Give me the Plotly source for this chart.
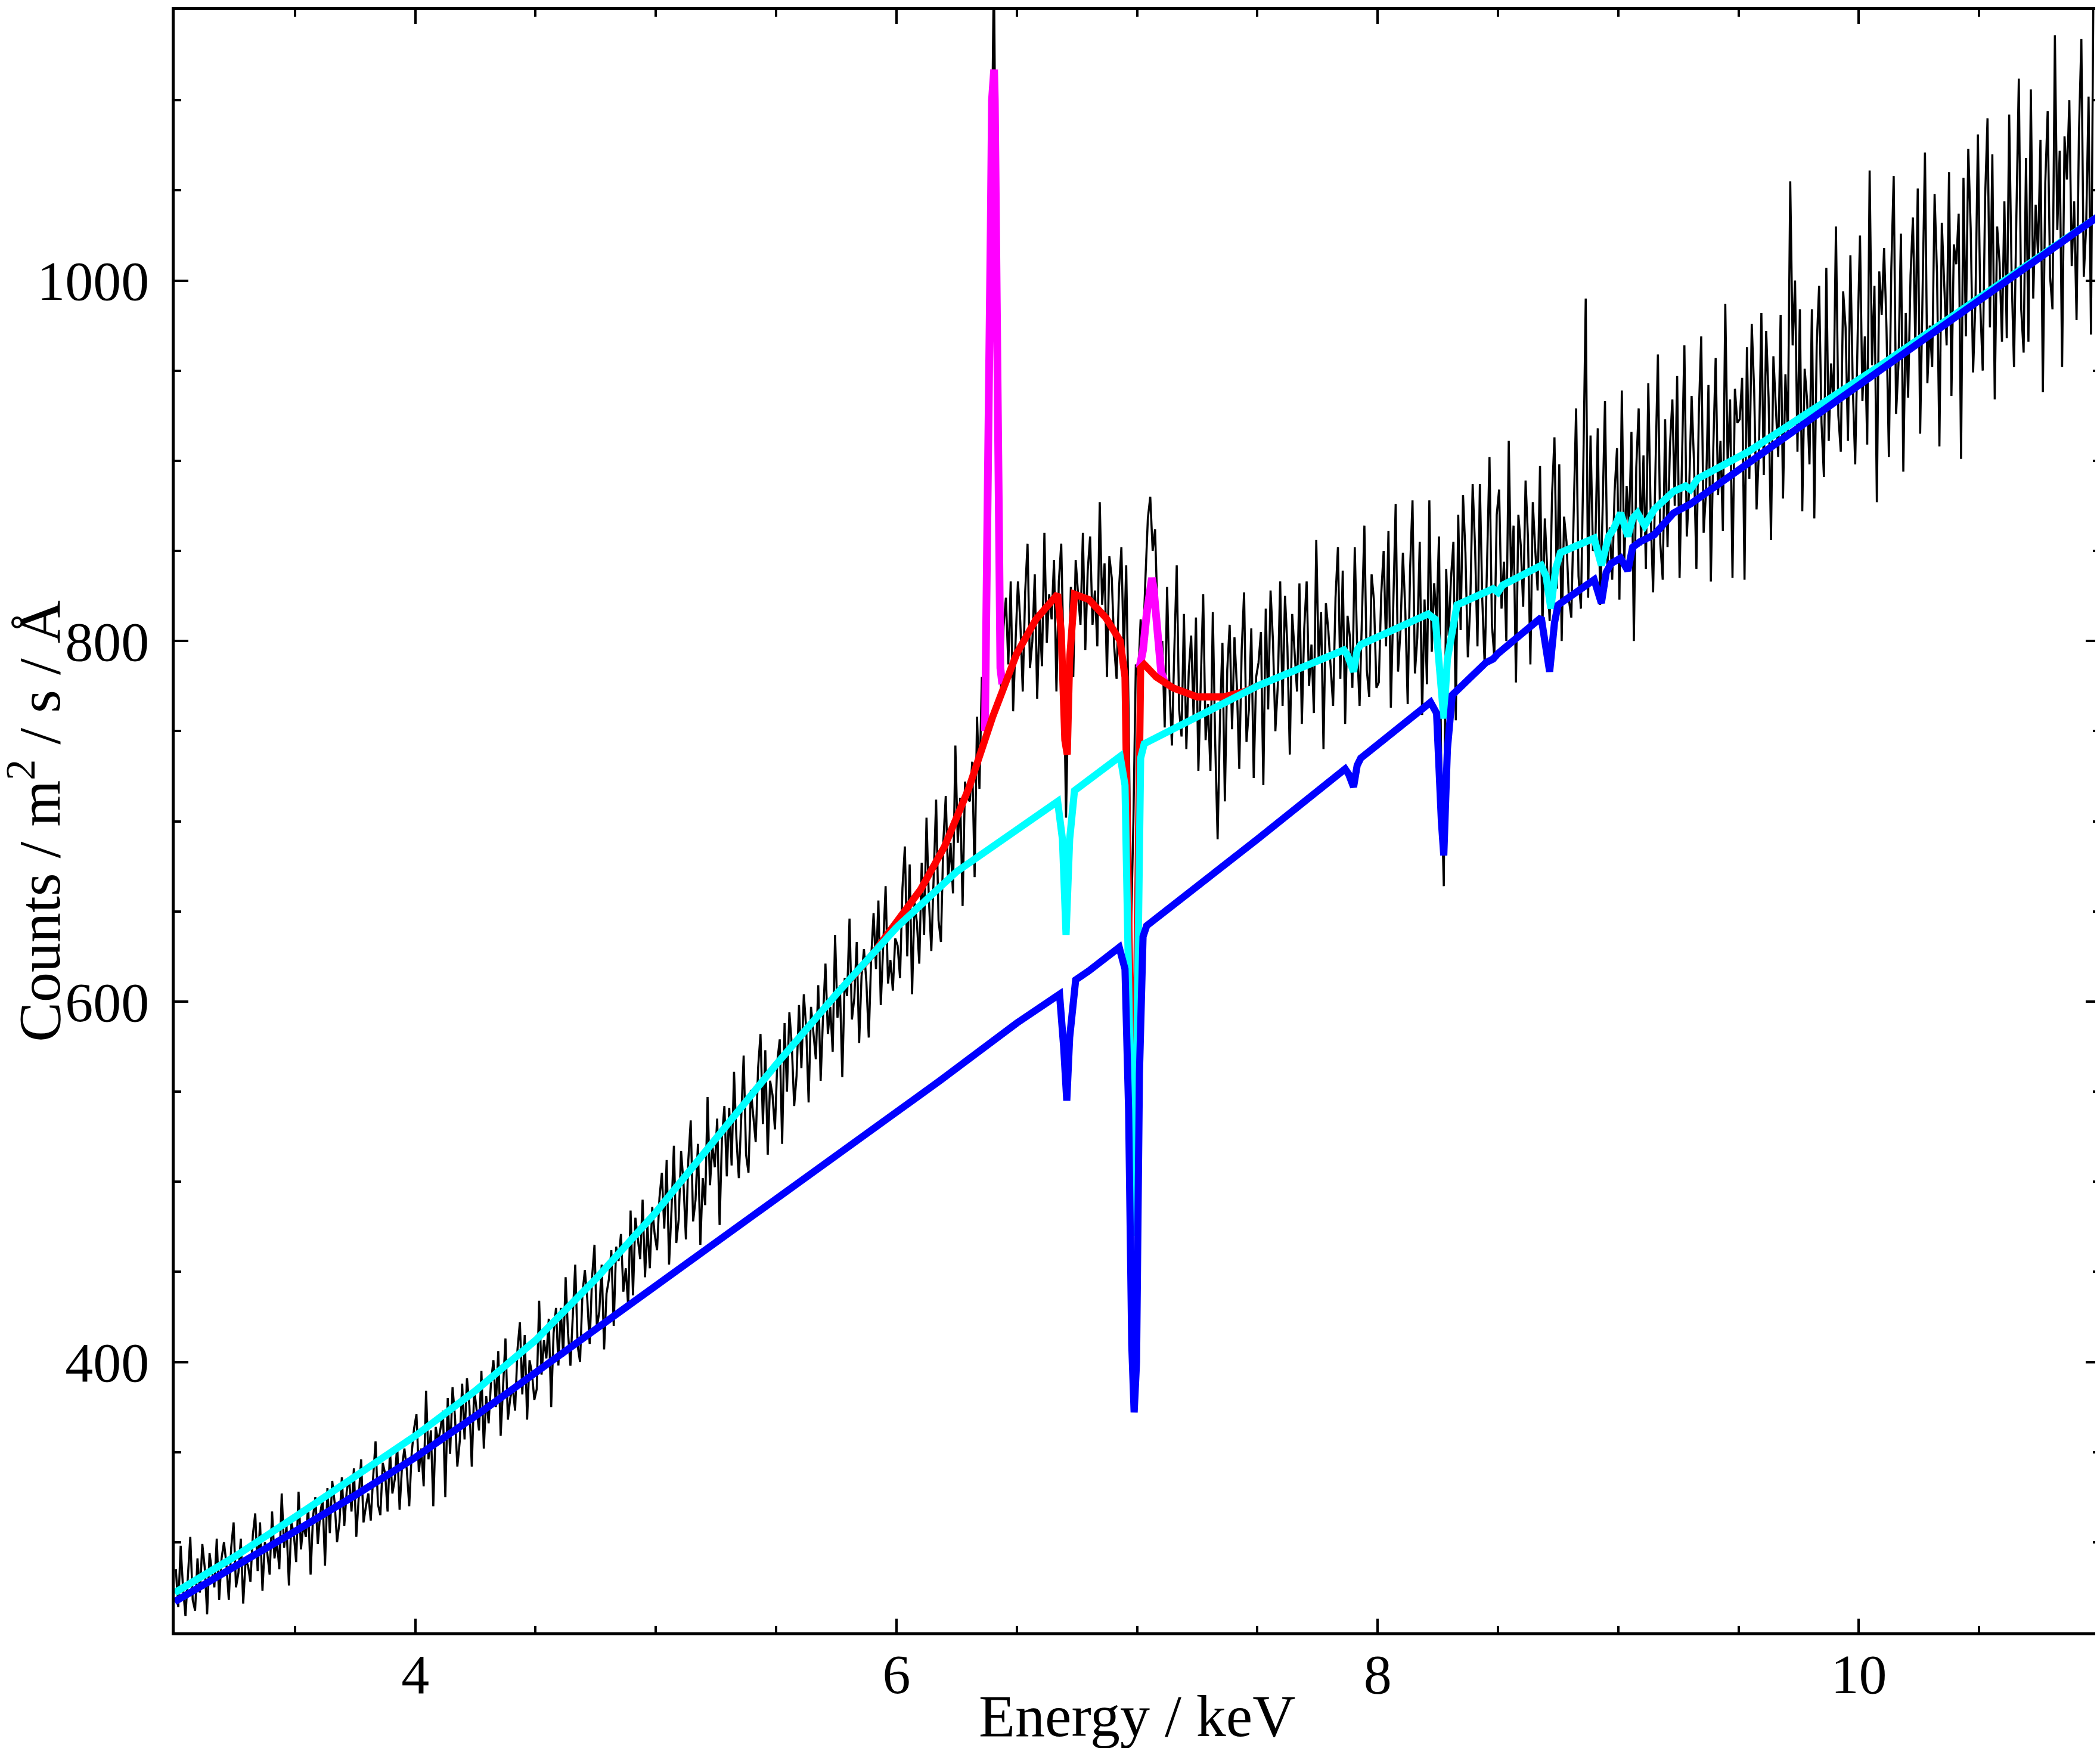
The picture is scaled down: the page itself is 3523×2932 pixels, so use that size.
import plotly.graph_objects as go

# ---------------- data ----------------
E_START = 3.005   # centre of first bin (keV)
E_STEP = 0.01     # bin width (keV)

counts = [
    285, 264, 298, 274, 259, 283, 303, 268, 262, 291,
    272, 299, 286, 260, 294, 284, 275, 302, 268, 291,
    300, 288, 268, 297, 311, 275, 283, 302, 266, 290,
    287, 278, 304, 316, 284, 311, 273, 300, 294, 282,
    317, 291, 301, 285, 327, 297, 309, 276, 311, 305,
    289, 328, 296, 310, 303, 320, 282, 314, 325, 299,
    316, 324, 287, 330, 305, 334, 322, 300, 311, 336,
    309, 328, 336, 317, 341, 303, 323, 346, 311, 320,
    327, 312, 336, 356, 321, 315, 344, 338, 317, 351,
    327, 335, 354, 318, 342, 352, 340, 320, 349, 363,
    371, 339, 352, 331, 384, 346, 362, 320, 364, 356,
    363, 373, 325, 380, 349, 386, 370, 342, 356, 388,
    357, 391, 376, 342, 385, 373, 362, 395, 352, 381,
    366, 389, 401, 375, 406, 359, 384, 413, 368, 380,
    386, 373, 407, 422, 382, 415, 368, 401, 394, 379,
    385, 434, 393, 412, 402, 424, 375, 416, 430, 398,
    430, 403, 447, 416, 398, 427, 454, 409, 400, 438,
    451, 435, 410, 447, 465, 419, 428, 454, 407, 438,
    446, 462, 420, 464, 456, 471, 439, 452, 431, 484,
    437, 480, 468, 457, 490, 447, 476, 452, 486, 471,
    462, 491, 505, 474, 512, 454, 484, 520, 466, 479,
    517, 499, 468, 512, 534, 478, 490, 521, 465, 502,
    487, 547, 498, 520, 508, 535, 476, 525, 542, 503,
    541, 509, 561, 524, 502, 538, 570, 515, 505, 551,
    537, 522, 563, 582, 532, 573, 515, 556, 548, 529,
    567, 579, 521, 588, 550, 594, 576, 542, 559, 598,
    563, 604, 585, 544, 597, 581, 568, 609, 556, 592,
    621, 582, 597, 572, 637, 591, 609, 558, 613, 603,
    646, 590, 602, 633, 577, 614, 629, 611, 580, 624,
    649, 618, 656, 598, 628, 664, 610, 623, 606, 635,
    631, 613, 663, 686, 625, 676, 604, 655, 644, 621,
    677, 637, 702, 656, 628, 673, 712, 645, 633, 689,
    714, 667, 688, 660, 742, 688, 713, 653, 722, 713,
    711, 733, 669, 758, 718, 780, 765, 800, 920, 1060,
    1175, 1010, 870, 772, 808, 824, 787, 833, 761, 799,
    833, 810, 772, 827, 854, 785, 800, 837, 768, 814,
    786, 860, 799, 826, 812, 845, 772, 833, 854, 790,
    702, 775, 830, 780, 845, 826, 809, 860, 795, 839,
    858, 809, 828, 797, 877, 820, 843, 780, 847, 835,
    797, 779, 829, 852, 791, 842, 760, 640, 700, 787,
    780, 812, 798, 835, 868, 880, 850, 862, 815, 790,
    800, 752, 830, 774, 742, 795, 842, 762, 747, 815,
    740, 783, 803, 758, 813, 728, 773, 826, 745, 765,
    728, 816, 743, 690, 758, 799, 711, 784, 809, 751,
    802, 775, 729, 795, 827, 744, 762, 807, 724, 780,
    788, 805, 720, 818, 762, 828, 800, 750, 775, 833,
    764, 825, 797, 737, 815, 792, 772, 832, 754, 807,
    833, 775, 798, 760, 856, 788, 816, 740, 821, 806,
    786, 764, 824, 852, 779, 839, 754, 814, 802, 774,
    852, 796, 764, 817, 864, 784, 769, 837, 822, 774,
    777, 826, 850, 797, 861, 763, 815, 876, 783, 806,
    849, 817, 765, 840, 878, 782, 802, 855, 759, 823,
    776, 878, 794, 832, 811, 858, 720, 664, 840, 803,
    835, 855, 756, 870, 806, 881, 849, 791, 820, 887,
    852, 797, 887, 823, 786, 847, 902, 809, 791, 870,
    884, 818, 844, 800, 911, 832, 864, 777, 870, 853,
    819, 889, 857, 787, 877, 851, 828, 897, 807, 868,
    837, 811, 881, 913, 829, 898, 800, 869, 855, 823,
    813, 874, 929, 836, 818, 897, 990, 824, 914, 850,
    854, 918, 820, 872, 933, 840, 863, 834, 883, 907,
    823, 939, 843, 886, 863, 916, 800, 896, 929, 853,
    903, 840, 943, 870, 827, 897, 959, 854, 834, 923,
    852, 908, 934, 875, 947, 835, 895, 964, 858, 885,
    936, 899, 840, 926, 969, 860, 883, 942, 833, 906,
    957, 881, 911, 861, 987, 897, 934, 835, 940, 921,
    923, 946, 834, 963, 890, 976, 939, 873, 906, 982,
    892, 972, 935, 856, 958, 929, 902, 981, 879, 948,
    914, 1055, 964, 1000, 905, 984, 872, 951, 934, 898,
    984, 868, 964, 997, 921, 891, 1007, 911, 954, 931,
    1030, 925, 905, 994, 974, 911, 1014, 941, 898, 968,
    1025, 933, 969, 909, 1061, 953, 997, 877, 1005, 981,
    1018, 974, 902, 1006, 1058, 926, 954, 1026, 894, 982,
    935, 1003, 1035, 963, 1051, 915, 987, 1071, 943, 975,
    952, 1048, 1004, 908, 1032, 996, 964, 1060, 936, 1020,
    1009, 1037, 901, 1057, 969, 1073, 1029, 949, 989, 1081,
    986, 950, 1046, 1090, 974, 1070, 934, 1030, 1010, 966,
    1044, 968, 1092, 1004, 952, 1036, 1112, 984, 960, 1068,
    966, 1106, 990, 1042, 1014, 1078, 938, 1054, 1094, 1002,
    984, 1136, 1028, 1072, 952, 1080, 1056, 1100, 1008, 1044,
    978, 1082, 1134, 1002, 1030, 1102, 970, 1160, 1180, 1050,
]
energy = [round(E_START + E_STEP * i, 3) for i in range(len(counts))]

# absorbed continuum (blue)
blue_e = [3.00, 3.25, 3.50, 3.75, 4.00, 4.25, 4.50, 4.75, 5.00, 5.25, 5.50, 5.75,
          6.00, 6.18, 6.50, 6.65, 6.678, 6.695, 6.708, 6.72, 6.745, 6.80, 6.926,
          6.95, 6.965, 6.978, 6.988, 6.998, 7.01, 7.025, 7.04, 7.50, 7.865, 7.88,
          7.90, 7.915, 7.93, 8.22, 8.245, 8.265, 8.275, 8.29, 8.31, 8.45, 8.48,
          8.50, 8.68, 8.695, 8.715, 8.735, 8.75, 8.90, 8.93, 8.95, 8.97, 9.01,
          9.04, 9.06, 9.09, 9.15, 9.23, 9.30, 10.00, 10.50, 11.00]
blue_v = [267, 286, 306, 326, 347, 370, 394, 418, 442, 466, 490, 514,
          539, 556, 588, 602, 604, 575, 545, 580, 612, 617, 630,
          618, 540, 410, 372, 400, 560, 636, 642, 690, 729, 726,
          719, 731, 735, 766, 760, 700, 681, 740, 770, 788, 790,
          793, 813, 800, 783, 810, 820, 834, 821, 838, 843, 846,
          839, 852, 855, 859, 871, 876, 942, 989, 1036]

# continuum + broad component (cyan)
cyan_e = [3.00, 3.25, 3.50, 3.75, 4.00, 4.25, 4.50, 4.75, 5.00, 5.25, 5.50, 5.75,
          6.00, 6.25, 6.50, 6.67, 6.69, 6.705, 6.72, 6.74, 6.93, 6.95, 6.972,
          6.985, 6.998, 7.015, 7.03, 7.50, 7.86, 7.875, 7.90, 7.915, 7.93, 8.21,
          8.24, 8.26, 8.275, 8.29, 8.33, 8.48, 8.50, 8.52, 8.68, 8.70, 8.72,
          8.74, 8.76, 8.90, 8.93, 8.96, 8.98, 9.01, 9.04, 9.06, 9.08, 9.11,
          9.15, 9.23, 9.28, 9.30, 9.33, 9.54, 10.08, 11.00]
cyan_v = [272, 292, 314, 336, 359, 384, 412, 446, 483, 524, 565, 604,
          641, 672, 695, 711, 690, 637, 690, 717, 736, 720, 560,
          470, 560, 735, 743, 775, 795, 792, 783, 795, 798, 815,
          812, 780, 757, 790, 820, 829, 827, 831, 842, 836, 818,
          840, 849, 857, 842, 858, 862, 871, 858, 868, 871, 864,
          873, 883, 886, 884, 890, 905, 952, 1036]

# model with broad iron line (red)
red_e = [5.80, 5.90, 6.00, 6.10, 6.20, 6.30, 6.40, 6.50, 6.58, 6.64, 6.67,
         6.685, 6.70, 6.71, 6.72, 6.74, 6.80, 6.87, 6.93, 6.95, 6.972, 6.985,
         6.998, 7.015, 7.03, 7.08, 7.15, 7.25, 7.36, 7.45, 7.50]
red_v = [611, 626, 644, 662, 686, 718, 758, 793, 812, 822, 826,
         805, 745, 737, 790, 826, 823, 813, 800, 780, 560, 480,
         600, 785, 787, 780, 774, 769, 769, 772, 775]

# narrow emission lines (magenta), two separate pieces
mag_e = [6.368, 6.380, 6.392, 6.397, 6.400, 6.406, 6.409, 6.414, 6.424, 6.432, 6.44,
         None,
         7.01, 7.025, 7.04, 7.055, 7.062, 7.07, 7.085, 7.10, 7.115]
mag_v = [750, 860, 1030, 1100, 1117, 1117, 1100, 1000, 840, 785, 776,
         None,
         785, 795, 815, 833, 835, 828, 800, 783, 777]

# axis ticks
x_range = [3, 11]
y_range = [250, 1150]
x_tick_step, x_minor_step = 2, 0.5
y_tick_step, y_minor_step = 200, 50

# ---------------- figure ----------------
FONT = "Liberation Serif"
fig = go.Figure()
fig.add_trace(go.Scatter(x=energy, y=counts, mode="lines",
                         line=dict(color="black", width=3.5), hoverinfo="skip"))
fig.add_trace(go.Scatter(x=mag_e, y=mag_v, mode="lines", connectgaps=False,
                         line=dict(color="#ff00ff", width=13), hoverinfo="skip"))
fig.add_trace(go.Scatter(x=red_e, y=red_v, mode="lines",
                         line=dict(color="#ff0000", width=12), hoverinfo="skip"))
fig.add_trace(go.Scatter(x=cyan_e, y=cyan_v, mode="lines",
                         line=dict(color="#00ffff", width=12), hoverinfo="skip"))
fig.add_trace(go.Scatter(x=blue_e, y=blue_v, mode="lines",
                         line=dict(color="#0000ff", width=12), hoverinfo="skip"))

axis_common = dict(
    showgrid=False, zeroline=False, showline=True, linecolor="black", linewidth=5,
    mirror="allticks", ticks="inside", ticklen=23, tickwidth=4, tickcolor="black",
    tickfont=dict(family=FONT, size=94, color="black"),
)
fig.update_xaxes(range=x_range, dtick=x_tick_step, tick0=0, ticklabelstandoff=-16,
                 minor=dict(dtick=x_minor_step, tick0=0, ticks="inside", ticklen=11,
                            tickwidth=4, tickcolor="black", showgrid=False),
                 **axis_common)
fig.update_yaxes(range=y_range, dtick=y_tick_step, tick0=0, ticklabelstandoff=19,
                 minor=dict(dtick=y_minor_step, tick0=0, ticks="inside", ticklen=11,
                            tickwidth=4, tickcolor="black", showgrid=False),
                 **axis_common)

W, H = 3523, 2932
L, R, T, B = 285, 5, 4, 202
fig.update_layout(
    width=W, height=H, showlegend=False,
    paper_bgcolor="white", plot_bgcolor="white",
    margin=dict(l=L, r=R, t=T, b=B, pad=0),
    hovermode=False,
    annotations=[
        dict(text="Energy / keV", xref="paper", yref="paper", x=0.5,
             y=-(2871 - (H - B)) / (H - T - B), xanchor="center", yanchor="middle",
             showarrow=False, font=dict(family=FONT, size=100, color="black")),
        dict(text="Counts / m<sup>2</sup> / s / Å", xref="paper", yref="paper",
             x=(50 - L) / (W - L - R), y=0.5, xanchor="center", yanchor="middle",
             textangle=-90, showarrow=False,
             font=dict(family=FONT, size=100, color="black")),
    ],
)

fig.write_html("out.html")
